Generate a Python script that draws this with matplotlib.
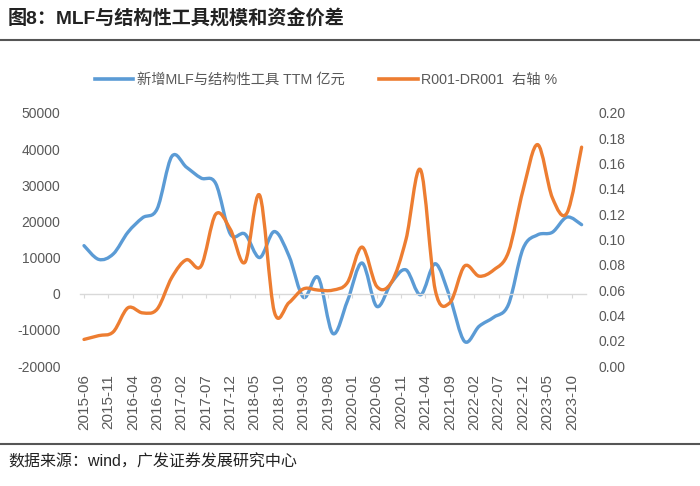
import matplotlib.pyplot as plt
import numpy as np
from matplotlib.path import Path
from matplotlib.patches import PathPatch
from matplotlib.lines import Line2D

plt.rcParams['font.family'] = ['Liberation Sans', 'Noto Sans CJK SC', 'DejaVu Sans']
plt.rcParams['axes.unicode_minus'] = False

# quarterly observations
quarters = ['2015-06', '2015-09', '2015-12',
            '2016-03', '2016-06', '2016-09', '2016-12',
            '2017-03', '2017-06', '2017-09', '2017-12',
            '2018-03', '2018-06', '2018-09', '2018-12',
            '2019-03', '2019-06', '2019-09', '2019-12',
            '2020-03', '2020-06', '2020-09', '2020-12',
            '2021-03', '2021-06', '2021-09', '2021-12',
            '2022-03', '2022-06', '2022-09', '2022-12',
            '2023-03', '2023-06', '2023-09', '2023-12']

# 新增MLF与结构性工具 TTM (亿元)
mlf_ttm = [13300, 9500, 11000,
           17000, 21000, 23500, 38000,
           35000, 32000, 30500, 16500,
           16500, 10000, 17200, 10500,
           -1000, 4500, -11000, -2000,
           8500, -3500, 3000, 6600,
           -300, 8300, -1000, -13200,
           -9000, -6500, -3000, 12500,
           16300, 17000, 21200, 19100]

# R001-DR001 (%)
r001_dr001 = [0.021, 0.024, 0.027,
              0.046, 0.042, 0.045, 0.070,
              0.084, 0.079, 0.120, 0.108,
              0.082, 0.135, 0.043, 0.050,
              0.061, 0.060, 0.060, 0.066,
              0.094, 0.063, 0.066, 0.100,
              0.155, 0.060, 0.050, 0.079,
              0.071, 0.076, 0.090, 0.139,
              0.175, 0.133, 0.121, 0.173]

tick_labels = ['2015-06', '2015-11', '2016-04', '2016-09', '2017-02', '2017-07',
               '2017-12', '2018-05', '2018-10', '2019-03', '2019-08', '2020-01',
               '2020-06', '2020-11', '2021-04', '2021-09', '2022-02', '2022-07',
               '2022-12', '2023-05', '2023-10']

BLUE = '#5B9BD5'
ORANGE = '#ED7D31'
GREY = '#595959'


def month_index(label, start='2015-06'):
    y, m = map(int, label.split('-'))
    y0, m0 = map(int, start.split('-'))
    return (y - y0) * 12 + (m - m0)


# smoothed line like Excel (Catmull-Rom -> cubic bezier)
def smooth_path(x, y):
    pts = np.column_stack([x, y]).astype(float)
    n = len(pts)
    verts = [pts[0]]
    codes = [Path.MOVETO]
    for i in range(n - 1):
        p0 = pts[i - 1] if i > 0 else pts[i]
        p1, p2 = pts[i], pts[i + 1]
        p3 = pts[i + 2] if i + 2 < n else pts[i + 1]
        verts += [p1 + (p2 - p0) / 6, p2 - (p3 - p1) / 6, p2]
        codes += [Path.CURVE4] * 3
    return Path(verts, codes)


x = np.array([month_index(q) for q in quarters])
xt = [month_index(t) for t in tick_labels]

fig = plt.figure(figsize=(7, 4.86), dpi=100)
ax = fig.add_axes([80 / 700, 120 / 486, 506 / 700, 253 / 486])
ax2 = ax.twinx()

ax.add_patch(PathPatch(smooth_path(x, mlf_ttm), facecolor='none', edgecolor=BLUE,
                       lw=2.4, capstyle='round', joinstyle='round'))
ax2.add_patch(PathPatch(smooth_path(x, r001_dr001), facecolor='none', edgecolor=ORANGE,
                        lw=2.4, capstyle='round', joinstyle='round'))

ax.set_xlim(-0.82, 102.9)
ax.set_ylim(-20000, 50000)
ax.set_yticks(np.arange(-20000, 50001, 10000))
ax2.set_ylim(0, 0.2)
ax2.set_yticks(np.arange(0, 0.201, 0.02))
ax2.set_yticklabels([f'{v:.2f}' for v in np.arange(0, 0.201, 0.02)])

for a in (ax, ax2):
    for s in a.spines.values():
        s.set_visible(False)

# category axis crossing at zero
ax.spines['bottom'].set_visible(True)
ax.spines['bottom'].set_position(('data', 0))
ax.spines['bottom'].set_color('#d9d9d9')
ax.spines['bottom'].set_linewidth(1.0)
ax.set_xticks(xt)
ax.tick_params(axis='x', length=3, color='#d9d9d9', labelbottom=False)
ax.tick_params(axis='y', length=0, pad=14, labelsize=10, labelcolor=GREY)
ax2.tick_params(axis='y', length=0, pad=9, labelsize=10, labelcolor=GREY)

sec = ax.secondary_xaxis('bottom')
sec.set_xticks(xt)
sec.set_xticklabels(tick_labels, rotation=90)
sec.tick_params(length=0, pad=6, labelsize=11, labelcolor=GREY)
sec.spines['bottom'].set_visible(False)

handles = [Line2D([], [], color=BLUE, lw=2.6),
           Line2D([], [], color=ORANGE, lw=2.6)]
fig.legend(handles, ['新增MLF与结构性工具 TTM 亿元', 'R001-DR001  右轴 %'],
           loc='center', bbox_to_anchor=(326 / 700, 1 - 80 / 486), ncol=2,
           frameon=False, fontsize=10.3, labelcolor=GREY, handlelength=2.7,
           handletextpad=0.25, columnspacing=2.4)

fig.text(8 / 700, 1 - 19 / 486, '图8：MLF与结构性工具规模和资金价差', fontsize=13.8,
         fontweight='bold', color='#222222', va='center', ha='left')
fig.add_artist(Line2D([0, 1], [1 - 40 / 486, 1 - 40 / 486], transform=fig.transFigure,
                      color='#555555', lw=1.5))
fig.add_artist(Line2D([0, 1], [1 - 444 / 486, 1 - 444 / 486], transform=fig.transFigure,
                      color='#555555', lw=1.5))
fig.text(8 / 700, 1 - 462 / 486, '数据来源：wind，广发证券发展研究中心', fontsize=11.5,
         color='#222222', va='center', ha='left')

fig.savefig('out.png', dpi=100, facecolor='white')
